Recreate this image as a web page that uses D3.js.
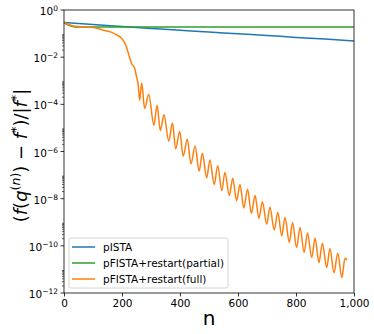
<!DOCTYPE html>
<html>
<head>
<meta charset="utf-8">
<script src="https://cdn.jsdelivr.net/npm/d3@7"></script>
<style>
  body { margin: 0; background: #fff; }
  svg { display: block; font-family: "DejaVu Sans", sans-serif; }
</style>
</head>
<body>
<div id="chart"></div>
<script>
// Series data (iteration n, relative error)
var istaN = [0, 100, 200, 300, 400, 500, 600, 700, 800, 900, 1000];
var istaErr = [0.295, 0.24, 0.20, 0.166, 0.138, 0.117, 0.098, 0.083, 0.069, 0.059, 0.049];

var partialN = [0, 15, 30, 50, 100, 300, 500, 700, 1000];
var partialErr = [0.295, 0.23, 0.20, 0.19, 0.189, 0.189, 0.189, 0.189, 0.188];

var fullN = [0, 30, 60, 90, 120, 140, 160, 180, 195, 205, 212, 222, 233, 244, 250, 256, 261,
  268, 278, 292, 310, 321, 332, 345, 361, 374, 385, 399, 411, 425, 438, 452, 466, 477, 492,
  503, 518, 530, 544, 555, 570, 582, 595, 607, 620, 633, 646, 659, 672, 684, 699, 710, 725,
  737, 751, 762, 777, 788, 802, 814, 828, 840, 854, 866, 879, 891, 906, 917, 931, 944, 958,
  969, 976];
var fullErr = [0.295, 0.21, 0.195, 0.19, 0.16, 0.135, 0.118, 0.09, 0.07, 0.05, 0.035, 0.0145,
  0.0054, 0.0033, 0.0015, 6.5e-4, 1.5e-4,
  8.1e-4, 6.6e-5, 2.7e-4, 1.3e-5, 9.1e-5, 7.8e-6, 3.6e-5, 2.75e-6, 1.6e-5, 1.3e-6, 7.1e-6,
  6.3e-7, 3.3e-6, 3.0e-7, 1.7e-6, 1.45e-7, 8.5e-7, 7.6e-8, 4.4e-7, 4.0e-8, 2.5e-7, 2.2e-8,
  1.3e-7, 1.35e-8, 7.4e-8, 8.1e-9, 4.0e-8, 4.0e-9, 2.5e-8, 2.4e-9, 1.35e-8, 1.45e-9, 7.4e-9,
  8.3e-10, 4.3e-9, 4.7e-10, 2.6e-9, 2.7e-10, 1.6e-9, 1.4e-10, 9.8e-10, 8.5e-11, 6.0e-10,
  5.2e-11, 3.5e-10, 3.2e-11, 2.1e-10, 1.95e-11, 1.3e-10, 1.2e-11, 7.8e-11, 7.2e-12, 4.9e-11,
  4.5e-12, 3.0e-11, 2.5e-11];

var seriesNames = ["pISTA", "pFISTA+restart(partial)", "pFISTA+restart(full)"];
var seriesColors = ["#1f77b4", "#2ca02c", "#ff7f0e"];

var xTicks = [0, 200, 400, 600, 800, 1000];
var yTickExps = [0, -2, -4, -6, -8, -10, -12];

// Layout
var width = 374;
var height = 334;
var margin = { top: 10, right: 20, bottom: 41, left: 64 };
var plotW = width - margin.left - margin.right;
var plotH = height - margin.top - margin.bottom;

var svg = d3.select("#chart")
    .append("svg")
    .attr("width", width)
    .attr("height", height);

var g = svg.append("g")
    .attr("transform", "translate(" + margin.left + "," + margin.top + ")");

var x = d3.scaleLinear().domain([0, 1000]).range([0, plotW]);
var y = d3.scaleLog().domain([1e-12, 1]).range([plotH, 0]);

// minor ticks: 2..9 x 10^k for the even decades
var minorTicks = [];
yTickExps.forEach(function (e) {
    for (var m = 2; m <= 9; m++) {
        var v = m * Math.pow(10, e);
        if (v < 1) minorTicks.push(v);
    }
});

g.selectAll("line.minor")
    .data(minorTicks)
    .enter()
    .append("line")
    .attr("class", "minor")
    .attr("x1", -2).attr("x2", 0)
    .attr("y1", function (d) { return y(d); })
    .attr("y2", function (d) { return y(d); })
    .attr("stroke", "#000")
    .attr("stroke-width", 0.6);

// major y ticks
g.selectAll("line.ymajor")
    .data(yTickExps)
    .enter()
    .append("line")
    .attr("class", "ymajor")
    .attr("x1", -3.5).attr("x2", 0)
    .attr("y1", function (d) { return y(Math.pow(10, d)); })
    .attr("y2", function (d) { return y(Math.pow(10, d)); })
    .attr("stroke", "#000")
    .attr("stroke-width", 0.8);

var yLabels = g.selectAll("text.ytick")
    .data(yTickExps)
    .enter()
    .append("text")
    .attr("class", "ytick")
    .attr("x", -6)
    .attr("y", function (d) { return y(Math.pow(10, d)) + 5; })
    .attr("text-anchor", "end")
    .style("font-size", "10.5px")
    .attr("fill", "#000");
yLabels.append("tspan").text("10");
yLabels.append("tspan")
    .attr("dy", -4)
    .style("font-size", "7.5px")
    .text(function (d) { return d === 0 ? "0" : "\u2212" + Math.abs(d); });

// x axis ticks
var xAxis = g.append("g")
    .attr("transform", "translate(0," + plotH + ")")
    .call(d3.axisBottom(x).tickValues(xTicks).tickSize(3.5).tickPadding(3));
xAxis.select(".domain").remove();
xAxis.selectAll(".tick line").attr("stroke-width", 0.8);
xAxis.selectAll(".tick text")
    .style("font-family", "DejaVu Sans")
    .style("font-size", "10.5px")
    .attr("fill", "#000");

// Lines
var line = d3.line()
    .x(function (d) { return x(d[0]); })
    .y(function (d) { return y(d[1]); })
    .curve(d3.curveMonotoneX);

var allSeries = [
    d3.zip(istaN, istaErr),
    d3.zip(partialN, partialErr),
    d3.zip(fullN, fullErr)
];

g.selectAll("path.series")
    .data(allSeries)
    .enter()
    .append("path")
    .attr("class", "series")
    .attr("d", line)
    .attr("fill", "none")
    .attr("stroke", function (d, i) { return seriesColors[i]; })
    .attr("stroke-width", 1.5)
    .attr("stroke-linejoin", "round");

// frame
g.append("rect")
    .attr("width", plotW)
    .attr("height", plotH)
    .attr("fill", "none")
    .attr("stroke", "#000")
    .attr("stroke-width", 0.8);

// legend
var legend = g.append("g").attr("transform", "translate(5," + (plotH - 55) + ")");
legend.append("rect")
    .attr("width", 159)
    .attr("height", 50)
    .attr("rx", 2)
    .attr("fill", "#fff")
    .attr("fill-opacity", 0.8)
    .attr("stroke", "#ccc")
    .attr("stroke-width", 0.8);
var items = legend.selectAll("g.item")
    .data(seriesNames)
    .enter()
    .append("g")
    .attr("class", "item")
    .attr("transform", function (d, i) { return "translate(0," + (9 + i * 16) + ")"; });
items.append("line")
    .attr("x1", 3).attr("x2", 26)
    .attr("stroke", function (d, i) { return seriesColors[i]; })
    .attr("stroke-width", 1.5);
items.append("text")
    .attr("x", 34)
    .attr("y", 4)
    .style("font-size", "10.5px")
    .text(function (d) { return d; });

// axis labels
svg.append("text")
    .attr("x", margin.left + plotW / 2)
    .attr("y", 325)
    .attr("text-anchor", "middle")
    .style("font-size", "20px")
    .text("n");

var ylab = svg.append("text")
    .attr("transform", "translate(27," + (margin.top + plotH / 2 + 4) + ") rotate(-90)")
    .attr("text-anchor", "middle")
    .style("font-size", "18px");
ylab.append("tspan").text("(");
ylab.append("tspan").style("font-style", "italic").text("f");
ylab.append("tspan").text("(");
ylab.append("tspan").style("font-style", "italic").text("q");
ylab.append("tspan").attr("dy", -7).style("font-size", "12.5px").text("(");
ylab.append("tspan").style("font-size", "12.5px").style("font-style", "italic").text("n");
ylab.append("tspan").style("font-size", "12.5px").text(")");
ylab.append("tspan").attr("dy", 7).text(") \u2212 ");
ylab.append("tspan").style("font-style", "italic").text("f");
ylab.append("tspan").attr("dy", -7).style("font-size", "12.5px").text("*");
ylab.append("tspan").attr("dy", 7).text(")/|");
ylab.append("tspan").style("font-style", "italic").text("f");
ylab.append("tspan").attr("dy", -7).style("font-size", "12.5px").text("*");
ylab.append("tspan").attr("dy", 7).text("|");
</script>
</body>
</html>
